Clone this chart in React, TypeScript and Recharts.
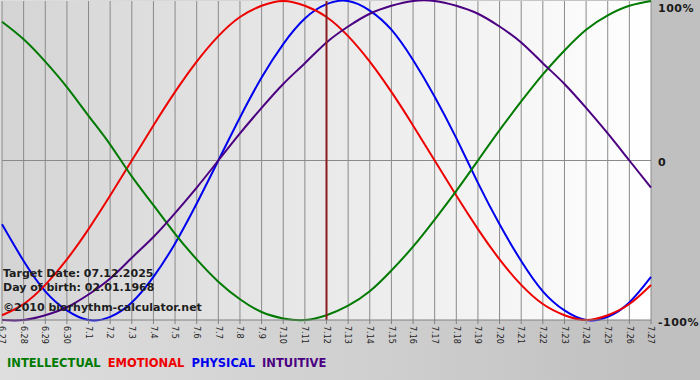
import React from "react";
import {
  CartesianGrid,
  Line,
  LineChart,
  ReferenceLine,
  XAxis,
  YAxis
} from "recharts";

const dates = [
  "6.27", "6.28", "6.29", "6.30", "7.1", "7.2", "7.3", "7.4", "7.5", "7.6", "7.7",
  "7.8", "7.9", "7.10", "7.11", "7.12", "7.13", "7.14", "7.15", "7.16", "7.17",
  "7.18", "7.19", "7.20", "7.21", "7.22", "7.23", "7.24", "7.25", "7.26", "7.27"
];

const intellectual = [
  0.87, 0.76, 0.62, 0.46, 0.28, 0.1, -0.1, -0.28, -0.46, -0.62, -0.76,
  -0.87, -0.95, -0.99, -1.0, -0.97, -0.91, -0.82, -0.69, -0.54, -0.37,
  -0.19, 0.0, 0.19, 0.37, 0.54, 0.69, 0.82, 0.91, 0.97, 1.0
];

const emotional = [
  -0.97, -0.9, -0.78, -0.62, -0.43, -0.22, 0.0, 0.22, 0.43, 0.62, 0.78,
  0.9, 0.97, 1.0, 0.97, 0.9, 0.78, 0.62, 0.43, 0.22, 0.0,
  -0.22, -0.43, -0.62, -0.78, -0.9, -0.97, -1.0, -0.97, -0.9, -0.78
];

const physical = [
  -0.4, -0.63, -0.82, -0.94, -1.0, -0.98, -0.89, -0.73, -0.52, -0.27, 0.0,
  0.27, 0.52, 0.73, 0.89, 0.98, 1.0, 0.94, 0.82, 0.63, 0.4,
  0.14, -0.14, -0.4, -0.63, -0.82, -0.94, -1.0, -0.98, -0.89, -0.73
];

const intuitive = [
  -1.0, -1.0, -0.97, -0.92, -0.84, -0.74, -0.61, -0.48, -0.33, -0.17, 0.0,
  0.17, 0.33, 0.48, 0.61, 0.74, 0.84, 0.92, 0.97, 1.0, 1.0,
  0.97, 0.92, 0.84, 0.74, 0.61, 0.48, 0.33, 0.17, 0.0, -0.17
];

const series = [
  { key: "physical", name: "PHYSICAL", color: "#0000ee" },
  { key: "emotional", name: "EMOTIONAL", color: "#ee0000" },
  { key: "intellectual", name: "INTELLECTUAL", color: "#007a00" },
  { key: "intuitive", name: "INTUITIVE", color: "#4b0082" }
];

const legendOrder = ["intellectual", "emotional", "physical", "intuitive"];

const yTicks = [-1, 0, 1];
const yTickLabels: Record<string, string> = { "-1": "-100%", "0": "0", "1": "100%" };

const targetDay = "7.12";
const infoLines = [
  "Target Date: 07.12.2025",
  "Day of birth: 02.01.1968",
  "\u00a92010 biorhythm-calculator.net"
];

const data = dates.map((date, i) => ({
  date,
  intellectual: intellectual[i],
  emotional: emotional[i],
  physical: physical[i],
  intuitive: intuitive[i]
}));

const font = "'DejaVu Sans', Verdana, sans-serif";

function DateTick({ x, y, payload }: { x?: number; y?: number; payload?: { value: string } }) {
  return (
    <text
      x={x}
      y={y}
      transform={`rotate(90 ${x} ${y})`}
      dy="0.35em"
      fontSize={8}
      fontFamily={font}
      fill="#222"
      textAnchor="start"
    >
      {payload?.value}
    </text>
  );
}

function PercentTick({ x, y, payload }: { x?: number; y?: number; payload?: { value: number } }) {
  const v = payload?.value ?? 0;
  const shift = v === 1 ? 3 : v === 0 ? 5 : 6;
  return (
    <text
      x={x}
      y={(y ?? 0) + shift}
      fontSize={11}
      fontWeight="bold"
      letterSpacing={0.5}
      fontFamily={font}
      fill="#1a1a1a"
      textAnchor="start"
    >
      {yTickLabels[String(v)]}
    </text>
  );
}

export default function App() {
  return (
    <div
      style={{
        position: "absolute",
        left: 0,
        top: 0,
        width: 700,
        height: 380,
        background: "linear-gradient(to right, #dedede 0%, #cdcdcd 60%, #c0c0c0 92%)",
        overflow: "hidden"
      }}
    >
      <LineChart width={700} height={380} data={data} margin={{ top: 1, right: 0, bottom: 0, left: 2 }}>
        <defs>
          <linearGradient id="plotBg" x1="0" y1="0" x2="1" y2="0">
            <stop offset="0%" stopColor="#d4d4d4" />
            <stop offset="100%" stopColor="#ffffff" />
          </linearGradient>
        </defs>
        <CartesianGrid horizontal={false} stroke="#8a8a8a" fill="url(#plotBg)" fillOpacity={1} />
        <XAxis
          dataKey="date"
          interval={0}
          height={60}
          tick={<DateTick />}
          tickSize={4}
          tickMargin={2}
          stroke="#808080"
          axisLine={{ stroke: "#808080" }}
          tickLine={{ stroke: "#808080" }}
        />
        <YAxis
          yAxisId={0}
          orientation="right"
          width={49}
          domain={[-1, 1]}
          ticks={yTicks}
          axisLine={false}
          tickLine={false}
          tickSize={6}
          tickMargin={1}
          tick={<PercentTick />}
        />
        <ReferenceLine y={0} stroke="#8a8a8a" />
        {series.map((s) => (
          <Line
            key={s.key}
            type="natural"
            dataKey={s.key}
            name={s.name}
            stroke={s.color}
            strokeWidth={2}
            dot={false}
            activeDot={false}
            isAnimationActive={false}
          />
        ))}
        <ReferenceLine x={targetDay} stroke="#8b1c1c" strokeWidth={2} />
      </LineChart>

      <svg
        width={700}
        height={380}
        style={{ position: "absolute", left: 0, top: 0, pointerEvents: "none" }}
      >
        {infoLines.map((line, i) => (
          <text
            key={line}
            x={3}
            y={[277, 291, 311][i]}
            fontSize={11}
            fontWeight="bold"
            fontFamily={font}
            fill="#1e1e1e"
          >
            {line}
          </text>
        ))}
        <text x={7} y={367} fontSize={11.5} fontWeight="bold" fontFamily={font}>
          {legendOrder.map((key, i) => {
            const s = series.find((x) => x.key === key)!;
            return (
              <tspan key={key} dx={i === 0 ? 0 : 7} fill={s.color}>
                {s.name}
              </tspan>
            );
          })}
        </text>
      </svg>
    </div>
  );
}
